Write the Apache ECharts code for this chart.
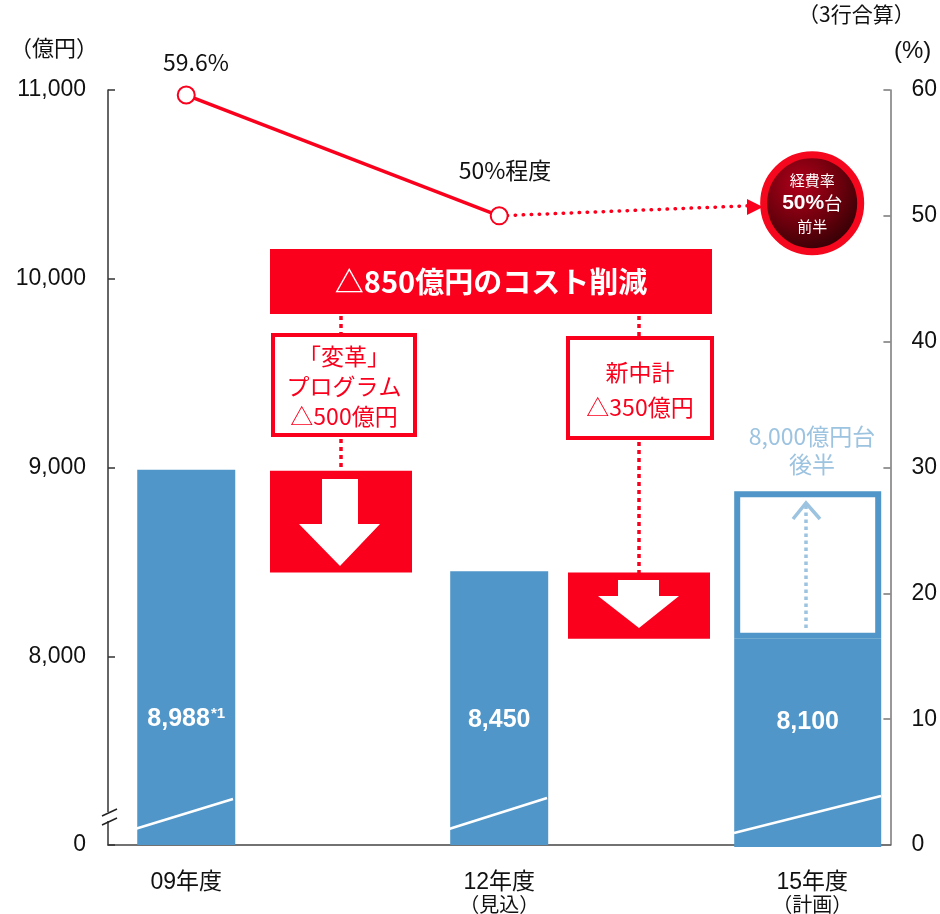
<!DOCTYPE html>
<html>
<head>
<meta charset="utf-8">
<script src="https://cdn.jsdelivr.net/npm/echarts@6/dist/echarts.min.js"></script>
<style>
  html, body { margin: 0; padding: 0; background: #fff; }
  #chart { width: 940px; height: 914px; }
</style>
</head>
<body>
<div id="chart"></div>
<script>
// 経費（億円）と経費率（％）の推移
const years = ['09年度', '', '12年度', '', '15年度'];
const yearNotes = ['', '', '（見込）', '', '（計画）'];
const expense = [8988, null, 8450, null, 8100];
const expenseText = ['8,988', '', '8,450', '', '8,100'];
const expenseFootnote = ['*1', '', '', '', ''];
const targetUpper = 8880;            // 8,000億円台後半
const expenseRatio = [59.6, null, 50, null, null];
const ratioLabels = ['59.6%', '', '50%程度', '', ''];
const ratioPlan = [null, null, 50, null, 51];
const leftTicks = [7000, 8000, 9000, 10000, 11000];
const leftTickText = ['0', '8,000', '9,000', '10,000', '11,000'];
const rightTicks = [0, 10, 20, 30, 40, 50, 60];

// 削減ステップ：各年度の経費の差
const cutSteps = ['「変革」プログラム', '新中計'];
const cutBase = [expense[2], expense[4]];
const cutSize = [expense[0] - expense[2], expense[2] - expense[4]];

const RED = '#fa001c';
const BLUE = '#5096c8';
const LIGHT_BLUE = '#9cc3e0';
const FONT = '"Liberation Sans", "Noto Sans CJK JP", sans-serif';
const JFONT = '"Noto Sans CJK JP", "Liberation Sans", sans-serif';

const chart = echarts.init(document.getElementById('chart'), null, { renderer: 'canvas' });

const gridBox = { top: 90, bottom: 67 };
const yRange = { min: leftTicks[0], max: leftTicks[leftTicks.length - 1], interval: 1000, startValue: leftTicks[0] };

const option = {
  animation: false,
  backgroundColor: '#fff',
  textStyle: { fontFamily: FONT },
  grid: [
    { left: 108, right: 49, top: gridBox.top, bottom: gridBox.bottom },
    { left: 192, right: 152, top: gridBox.top, bottom: gridBox.bottom },
    { left: 103, right: 54, top: gridBox.top, bottom: gridBox.bottom }
  ],
  xAxis: [
    {
      type: 'category', gridIndex: 0, data: years,
      axisLine: { lineStyle: { color: '#444', width: 1.5 } },
      axisTick: { show: false },
      axisLabel: {
        interval: 0, margin: 26, verticalAlign: 'top',
        formatter: function (v, i) {
          return yearNotes[i] ? '{a|' + v + '}\n{b|' + yearNotes[i] + '}' : '{a|' + v + '}';
        },
        rich: {
          a: { fontSize: 23, lineHeight: 23, color: '#111', fontFamily: FONT },
          b: { fontSize: 20, lineHeight: 20, color: '#111', fontFamily: JFONT }
        }
      }
    },
    { type: 'category', gridIndex: 1, data: cutSteps, show: false },
    { type: 'category', gridIndex: 2, data: years, show: false }
  ],
  yAxis: [
    Object.assign({
      type: 'value', gridIndex: 0, position: 'left',
      axisLine: { show: true, lineStyle: { color: '#333', width: 1.5 } },
      axisTick: { show: true, inside: true, length: 7, lineStyle: { color: '#333', width: 1.5 } },
      splitLine: { show: false },
      axisLabel: {
        margin: 22, fontSize: 23, color: '#111', fontFamily: FONT,
        formatter: function (v) { const k = leftTicks.indexOf(v); return k >= 0 ? leftTickText[k] : ''; }
      }
    }, yRange),
    {
      type: 'value', gridIndex: 0, position: 'right', min: 0, max: 60, interval: 10,
      axisLine: { show: true, lineStyle: { color: '#777', width: 1.5 } },
      axisTick: { show: true, inside: true, length: 7, lineStyle: { color: '#777', width: 1.5 } },
      splitLine: { show: false },
      axisLabel: { margin: 21, fontSize: 23, color: '#111', fontFamily: FONT }
    },
    Object.assign({ type: 'value', gridIndex: 1, show: false, splitLine: { show: false } }, yRange),
    Object.assign({ type: 'value', gridIndex: 2, show: false, splitLine: { show: false } }, yRange)
  ],
  series: [
    {
      name: '経費', type: 'bar', xAxisIndex: 0, yAxisIndex: 0, barWidth: 98, z: 3,
      data: expense.map((v, i) => (i < 4 ? v : null)),
      itemStyle: { color: BLUE },
      label: {
        show: true, position: 'insideBottom', distance: 112,
        formatter: function (p) {
          const i = p.dataIndex;
          return '{v|' + expenseText[i] + '}' + (expenseFootnote[i] ? '{s|' + expenseFootnote[i] + '}' : '');
        },
        rich: {
          v: { fontSize: 25, fontWeight: 'bold', color: '#fff', fontFamily: FONT },
          s: { fontSize: 15, fontWeight: 'bold', color: '#fff', fontFamily: FONT, verticalAlign: 'top', padding: [0, 0, 12, 1] }
        }
      }
    },
    {
      name: '経費（計画）', type: 'bar', xAxisIndex: 2, yAxisIndex: 3, barWidth: 147, stack: 'plan', z: 3,
      data: expense.map((v, i) => (i === 4 ? v : null)),
      itemStyle: { color: BLUE },
      label: {
        show: true, position: 'insideBottom', distance: 112,
        formatter: function (p) { return expenseText[p.dataIndex]; },
        fontSize: 25, fontWeight: 'bold', color: '#fff', fontFamily: FONT
      }
    },
    {
      name: '目標', type: 'bar', xAxisIndex: 2, yAxisIndex: 3, barWidth: 141, stack: 'plan', z: 2,
      data: expense.map((v, i) => (i === 4 ? targetUpper - v : null)),
      itemStyle: { color: '#fff', borderColor: BLUE, borderWidth: 6 }
    },
    {
      name: '削減基準', type: 'bar', xAxisIndex: 1, yAxisIndex: 2, barWidth: 142, stack: 'cut',
      data: cutBase, itemStyle: { color: 'rgba(0,0,0,0)' }, silent: true
    },
    {
      name: '削減額', type: 'bar', xAxisIndex: 1, yAxisIndex: 2, barWidth: 142, stack: 'cut',
      data: cutSize, itemStyle: { color: RED }
    },
    {
      name: '経費率（見通し）', type: 'line', xAxisIndex: 0, yAxisIndex: 1, z: 4,
      data: ratioPlan, connectNulls: true, symbol: 'none',
      lineStyle: { color: RED, width: 3.5, type: [0.5, 7.5], cap: 'round' }
    },
    {
      name: '経費率', type: 'line', xAxisIndex: 0, yAxisIndex: 1, z: 5,
      data: expenseRatio, connectNulls: true,
      symbol: 'circle', symbolSize: 17,
      itemStyle: { color: '#fff', borderColor: RED, borderWidth: 2 },
      lineStyle: { color: RED, width: 3.5 },
      label: {
        show: true, position: 'top', fontSize: 23, color: '#111', fontFamily: JFONT,
        formatter: function (p) { return ratioLabels[p.dataIndex]; }
      },
      labelLayout: function (params) {
        const i = params.dataIndex;
        const r = params.labelRect;
        if (i === 0) return { x: 196 - r.width / 2, y: 62 - r.height / 2 };
        if (i === 2) return { x: 505 - r.width / 2, y: 170 - r.height / 2 };
        return {};
      }
    },
    {
      name: '経費率目標', type: 'scatter', xAxisIndex: 0, yAxisIndex: 1, z: 6,
      data: ratioPlan.map((v, i) => (i === 4 ? v : null)),
      symbol: 'circle', symbolSize: 97,
      itemStyle: {
        opacity: 1,
        color: {
          type: 'radial', x: 0.38, y: 0.32, r: 0.8,
          colorStops: [
            { offset: 0, color: '#b0001a' },
            { offset: 0.5, color: '#6a000c' },
            { offset: 1, color: '#1a0002' }
          ]
        },
        borderColor: '#f5081e', borderWidth: 7
      },
      label: {
        show: true, position: 'inside',
        formatter: '{a|経費率}\n{b|50%}{c|台}\n{a|前半}',
        rich: {
          a: { fontSize: 15, color: '#fff', fontFamily: JFONT, lineHeight: 22, align: 'center' },
          b: { fontSize: 21, fontWeight: 'bold', color: '#fff', fontFamily: FONT, lineHeight: 24 },
          c: { fontSize: 18, color: '#fff', fontFamily: JFONT, lineHeight: 24 }
        }
      }
    }
  ],
  graphic: [
    // 単位
    { type: 'text', left: 10, top: 37, style: { text: '（億円）', fontSize: 22, fill: '#111', fontFamily: JFONT } },
    { type: 'text', left: 894, top: 39, style: { text: '(%)', fontSize: 24, fill: '#111', fontFamily: FONT } },
    { type: 'text', left: 798, top: 4, style: { text: '（3行合算）', fontSize: 21, fill: '#111', fontFamily: JFONT } },

    // 縦軸の省略記号
    { type: 'rect', z: 100, shape: { x: 104, y: 812, width: 8, height: 9 }, style: { fill: '#fff' } },
    { type: 'line', z: 101, shape: { x1: 102, y1: 816, x2: 117, y2: 809 }, style: { stroke: '#222', lineWidth: 1.5 } },
    { type: 'line', z: 101, shape: { x1: 102, y1: 825, x2: 117, y2: 818 }, style: { stroke: '#222', lineWidth: 1.5 } },

    // 棒の省略線
    { type: 'line', z: 100, shape: { x1: 135, y1: 829, x2: 233, y2: 799 }, style: { stroke: '#fff', lineWidth: 2.5 } },
    { type: 'line', z: 100, shape: { x1: 449, y1: 829, x2: 547, y2: 798 }, style: { stroke: '#fff', lineWidth: 2.5 } },
    { type: 'line', z: 100, shape: { x1: 734, y1: 833, x2: 881, y2: 796 }, style: { stroke: '#fff', lineWidth: 2.5 } },

    // コスト削減の見出し
    { type: 'rect', z: 50, shape: { x: 270, y: 249, width: 442, height: 65 }, style: { fill: RED } },
    { type: 'text', z: 51, x: 491, y: 282, style: { text: '△850億円のコスト削減', fontSize: 29, fontWeight: 'bold', fill: '#fff', fontFamily: JFONT, align: 'center', verticalAlign: 'middle' } },

    // 点線のつなぎ
    { type: 'line', z: 50, shape: { x1: 341, y1: 316, x2: 341, y2: 333 }, style: { stroke: RED, lineWidth: 3.5, lineDash: [4, 4] } },
    { type: 'line', z: 50, shape: { x1: 341, y1: 439, x2: 341, y2: 474 }, style: { stroke: RED, lineWidth: 3.5, lineDash: [4, 4] } },
    { type: 'line', z: 50, shape: { x1: 639, y1: 316, x2: 639, y2: 336 }, style: { stroke: RED, lineWidth: 3.5, lineDash: [4, 4] } },
    { type: 'line', z: 50, shape: { x1: 639, y1: 442, x2: 639, y2: 574 }, style: { stroke: RED, lineWidth: 3.5, lineDash: [4, 4] } },

    // 内訳ボックス
    { type: 'rect', z: 50, shape: { x: 273, y: 335, width: 142, height: 100 }, style: { fill: '#fff', stroke: RED, lineWidth: 4 } },
    { type: 'text', z: 51, x: 344, y: 386, style: { text: '「変革」\nプログラム\n△500億円', fontSize: 23, lineHeight: 30, fill: RED, fontFamily: JFONT, align: 'center', verticalAlign: 'middle' } },
    { type: 'rect', z: 50, shape: { x: 568, y: 338, width: 144, height: 100 }, style: { fill: '#fff', stroke: RED, lineWidth: 4 } },
    { type: 'text', z: 51, x: 640, y: 390, style: { text: '新中計\n△350億円', fontSize: 23, lineHeight: 35, fill: RED, fontFamily: JFONT, align: 'center', verticalAlign: 'middle' } },

    // 削減の矢印
    { type: 'polygon', z: 60, shape: { points: [[322, 479], [358, 479], [358, 524], [380, 524], [340, 566], [299, 524], [322, 524]] }, style: { fill: '#fff' } },
    { type: 'polygon', z: 60, shape: { points: [[618, 580], [659, 580], [659, 596], [679, 596], [639, 628], [598, 596], [618, 596]] }, style: { fill: '#fff' } },

    // 経費率見通しの矢じり
    { type: 'polygon', z: 60, shape: { points: [[747, 199], [763, 207], [747, 215]] }, style: { fill: RED } },

    // 8,000億円台後半
    { type: 'text', z: 60, x: 812, y: 450, style: { text: '8,000億円台\n後半', fontSize: 23, lineHeight: 28, fill: LIGHT_BLUE, fontFamily: JFONT, align: 'center', verticalAlign: 'middle' } },
    { type: 'line', z: 60, shape: { x1: 806, y1: 628, x2: 806, y2: 505 }, style: { stroke: LIGHT_BLUE, lineWidth: 3.5, lineDash: [3.5, 3.5] } },
    { type: 'polyline', z: 60, shape: { points: [[793, 519], [806, 503], [820, 519]] }, style: { stroke: LIGHT_BLUE, lineWidth: 3.5, fill: null } }
  ]
};

chart.setOption(option);
</script>
</body>
</html>
